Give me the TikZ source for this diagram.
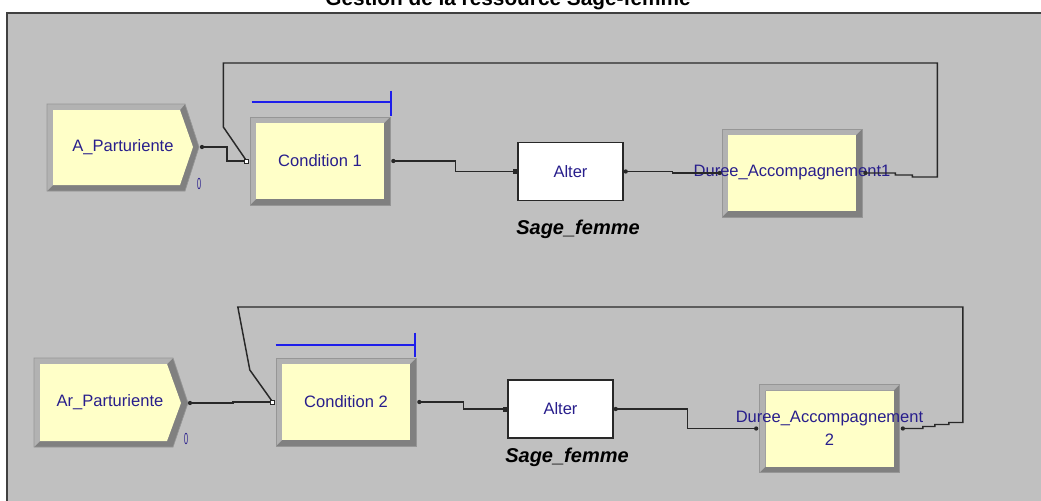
\documentclass[tikz,border=0pt]{standalone}
\usepackage{fontspec}
\setmainfont{Liberation Sans}
\usetikzlibrary{calc}

\definecolor{panel}{RGB}{192,192,192}
\definecolor{panelborder}{RGB}{64,64,64}
\definecolor{modyellow}{RGB}{255,255,200}
\definecolor{bevlight}{RGB}{178,178,178}
\definecolor{bevdark}{RGB}{128,128,128}
\definecolor{bevline}{RGB}{150,150,150}
\definecolor{modtext}{RGB}{40,30,140}
\definecolor{queueblue}{RGB}{30,30,235}
\definecolor{linecol}{RGB}{40,40,40}

\tikzset{
  modfont/.style={text=modtext, font=\fontsize{12.4}{17}\selectfont},
  modbox/.style={rectangle, modfont, align=center, inner sep=0pt,
    minimum width=105pt, minimum height=66pt, fill=bevdark, draw=bevline, line width=0.5pt,
    path picture={
      \fill[bevlight] (path picture bounding box.north west) -- (path picture bounding box.north east)
        -- ([shift={(-6,6)}]path picture bounding box.north east) -- ([shift={(6,6)}]path picture bounding box.north west)
        -- ([shift={(6,-6)}]path picture bounding box.south west) -- (path picture bounding box.south west) -- cycle;
      \fill[modyellow] ([shift={(6,6)}]path picture bounding box.north west)
        rectangle ([shift={(-6,-6)}]path picture bounding box.south east);
    }},
  alterbox/.style={rectangle, modfont, draw=linecol, line width=1.1pt, fill=white,
    minimum width=78.75pt, minimum height=43.5pt},
  reslabel/.style={font=\fontsize{15}{18}\selectfont\bfseries\itshape},
  countlabel/.style={text=modtext, font=\fontsize{12}{12}\selectfont, inner sep=0pt},
  conn/.style={draw=linecol, line width=1.1pt},
  queuebar/.style={draw=queueblue, line width=1.3pt}
}

\begin{document}
\begin{tikzpicture}[x=0.75pt, y=-0.75pt]
	\useasboundingbox (0,0) rectangle (1041,500);
	\fill[panel] (7,13) rectangle (1050,510);
	\draw[panelborder, line width=1.5pt] (7,510) -- (7,13) -- (1050,13);
	\node[anchor=base, font=\fontsize{15.6}{18}\selectfont\bfseries] (titre) at (508,5.5) {Gestion de la ressource Sage-femme};

	% A_Parturiente
	\fill[bevdark] (47,104) -- (185,104) -- (199,147) -- (185,191) -- (47,191) -- cycle;
	\fill[bevlight] (47,104) -- (185,104) -- (180,110) -- (53,110) -- (53,185) -- (47,191) -- cycle;
	\fill[modyellow] (53,110) -- (180,110) -- (193,147) -- (180,185) -- (53,185) -- cycle;
	\draw[bevline, line width=0.5pt] (47,104) -- (185,104) -- (199,147) -- (185,191) -- (47,191) -- cycle;
	\node[modfont] (a1) at (123,147) {A\_Parturiente};
	\node[countlabel] (n1) at (199,184) {\scalebox{0.45}[1]{0}};
	\coordinate (a1out) at (202,147);
	% Ar_Parturiente
	\fill[bevdark] (34,358) -- (173,358) -- (188,403) -- (173,447) -- (34,447) -- cycle;
	\fill[bevlight] (34,358) -- (173,358) -- (167,364) -- (40,364) -- (40,441) -- (34,447) -- cycle;
	\fill[modyellow] (40,364) -- (167,364) -- (181,403) -- (167,441) -- (40,441) -- cycle;
	\draw[bevline, line width=0.5pt] (34,358) -- (173,358) -- (188,403) -- (173,447) -- (34,447) -- cycle;
	\node[modfont] (a2) at (110,402) {Ar\_Parturiente};
	\node[countlabel] (n2) at (186,439) {\scalebox{0.45}[1]{0}};
	\coordinate (a2out) at (190,403);

	% modules
	\node[modbox] (c1) at (320,161) {Condition 1};
	\node[alterbox] (alt1) at (570.5,171.5) {Alter};
	\node[modbox] (d1) at (792,173) {\makebox[0pt]{Duree\_Accompagnement1}};
	\node[reslabel] (r1) at (578,229) {Sage\_femme};
	\node[modbox] (c2) at (346,402) {Condition 2};
	\node[alterbox] (alt2) at (560.5,409) {Alter};
	\node[modbox] (d2) at (829.5,428.5) {\makebox[0pt]{Duree\_Accompagnement}\\2};
	\node[reslabel] (r2) at (567,457) {Sage\_femme};

	% queues
	\draw[queuebar] ([shift={(2,-14.5)}]c1.north west) -- ([shift={(1,-14.5)}]c1.north east);
	\draw[queuebar] ([shift={(1,-26)}]c1.north east) -- ([shift={(1,-1)}]c1.north east);
	\draw[queuebar] ([shift={(0,-13)}]c2.north west) -- ([shift={(-1,-13)}]c2.north east);
	\draw[queuebar] ([shift={(-1,-25)}]c2.north east) -- ([shift={(-1,-1)}]c2.north east);

	\coordinate (c1in) at ([shift={(-3,0)}]c1.west);
	\coordinate (c1out) at ([shift={(3,0)}]c1.east);
	\coordinate (alt1in) at ([shift={(-2,0)}]alt1.west);
	\coordinate (alt1out) at ([shift={(2,0)}]alt1.east);
	\coordinate (d1in) at ([shift={(-2,0)}]d1.west);
	\coordinate (d1out) at ([shift={(3,0)}]d1.east);
	\coordinate (c2in) at ([shift={(-3,0)}]c2.west);
	\coordinate (c2out) at ([shift={(3,0)}]c2.east);
	\coordinate (alt2in) at ([shift={(-2,0)}]alt2.west);
	\coordinate (alt2out) at ([shift={(2,0)}]alt2.east);
	\coordinate (d2in) at ([shift={(-3,0)}]d2.west);
	\coordinate (d2out) at ([shift={(3,0)}]d2.east);

	% connexions
	\draw[conn] (a1out) -- ++(25,0) |- (c1in);
	\draw[conn] (c1out) -- ++(62,0) |- (alt1in);
	\draw[conn] (alt1out) -- ++(47,0) |- (d1in);
	\draw[conn] (d1out) -- ++(30,0) -- ++(0,2) -- ++(17,0) -- ++(0,2) -- ++(25,0) -- ++(0,-114) -- ++(-714,0) -- ++(0,64) -- (c1in);
	\draw[conn] (a2out) -- ++(43,0) |- (c2in);
	\draw[conn] (c2out) -- ++(44,0) |- (alt2in);
	\draw[conn] (alt2out) -- ++(72,0) |- (d2in);
	\draw[conn] (d2out) -- ++(20,0) -- ++(0,-2) -- ++(12,0) -- ++(0,-2) -- ++(14,0) -- ++(0,-2) -- ++(14,0) -- ++(0,-115.5) -- ++(-725,0) -- ++(12,63) -- (c2in);

	% points
	\foreach \p in {a1out, a2out, c1out, c2out, alt1out, alt2out, d1out, d2out, d1in, d2in}
		\fill[linecol] (\p) circle (1.6pt);
	\foreach \p in {alt1in, alt2in}
		\fill[linecol] ([shift={(-2.5,-2.5)}]\p) rectangle ([shift={(2.5,2.5)}]\p);
	\foreach \p in {c1in, c2in}
		\draw[linecol, fill=white, line width=0.6pt] ([shift={(-2,-2)}]\p) rectangle ([shift={(2,2)}]\p);
\end{tikzpicture}
\end{document}
